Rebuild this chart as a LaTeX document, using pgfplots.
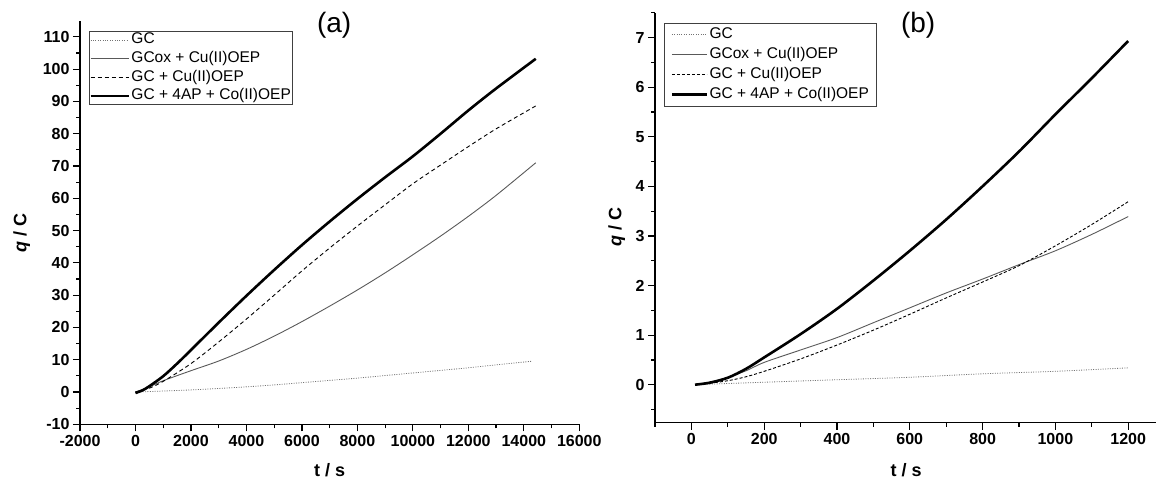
\documentclass[border=0pt]{standalone}
\usepackage{fontspec}
\setmainfont{Liberation Sans}
\usepackage{pgfplots}
\pgfplotsset{compat=1.18}

\pgfplotsset{
  panel/.style={
    scale only axis,
    clip mode=individual,
    axis x line=bottom, axis y line=left,
    axis line style={-, line width=1.3pt},
    tick align=outside,
    major tick length=7pt, minor tick length=4pt,
    every tick/.style={black, line width=1.2pt},
    minor x tick num=1, minor y tick num=1,
    tick label style={font=\bfseries\fontsize{16}{19}\selectfont},
    /pgf/number format/assume math mode=true,
    /pgf/number format/set thousands separator={},
    scaled ticks=false,
    label style={font=\bfseries\fontsize{18}{21}\selectfont},
    legend cell align=left,
    legend image code/.code={\draw[##1] (0pt,0pt) -- (38pt,0pt);},
    legend style={draw=black!75, line width=0.8pt, anchor=north west,
      font=\fontsize{15.5}{18}\selectfont, inner xsep=0pt, inner ysep=0pt,
      column sep=0pt, row sep=1.2pt,
      nodes={inner sep=1.5pt, text height=11pt, text depth=3.5pt}},
  },
  gc/.style={black!55, line width=0.8pt, dash pattern=on 1pt off 1.4pt, smooth},
  gcox/.style={black!65, line width=0.9pt, smooth},
  gccu/.style={black, line width=0.9pt, dash pattern=on 4pt off 3pt, smooth},
  gcco/.style={black, line width=2.6pt, smooth},
}

\begin{document}
\begin{tikzpicture}
\path[use as bounding box] (0,0) rectangle (1156pt,479pt);

% panel (a)
\begin{axis}[panel, at={(80pt,54.7pt)}, anchor=south west,
  width=499.3pt, height=403.6pt,
  xmin=-2000, xmax=16000, ymin=-10, ymax=115,
  xtick={-2000,0,...,16000}, ytick={-10,0,...,110},
  xlabel={t / s}, ylabel={\textit{q} / C},
  xlabel style={at={(axis description cs:0.5,0)}, anchor=center, yshift=-45.5pt},
  ylabel style={at={(axis description cs:0,0.474)}, anchor=center, yshift=58.3pt},
  legend style={at={(0.018,0.975)}},
]
\addplot[gc] coordinates {(0,0) (1000,0.3) (2000,0.65) (3000,1.1) (4000,1.6) (5000,2.2)
  (6000,2.9) (7000,3.6) (8000,4.3) (9000,5.1) (10000,5.9) (11000,6.7) (12000,7.5)
  (13000,8.4) (14260,9.5)};
\addplot[gcox] coordinates {(0,0) (500,1.6) (1000,3.5) (2000,6.6) (3000,9.6) (4000,13.2)
  (5000,17.3) (6000,21.8) (7000,26.6) (8000,31.6) (9000,36.9) (10000,42.5) (11000,48.3)
  (12000,54.4) (13000,60.9) (14430,71.0)};
\addplot[gccu] coordinates {(0,0) (500,1.2) (1000,3.3) (2000,8.8) (3000,15.5) (4000,22.6)
  (5000,30.0) (6000,37.5) (7000,44.6) (8000,51.4) (9000,58.0) (10000,64.5) (11000,70.3)
  (12000,76.0) (13000,81.5) (14430,88.6)};
\addplot[gcco] coordinates {(0,-0.3) (250,0.5) (500,1.8) (1000,4.9) (1500,8.8) (2000,13.0)
  (3000,21.5) (4000,29.8) (5000,37.8) (6000,45.5) (7000,52.8) (8000,59.8) (9000,66.5)
  (10000,73.0) (11000,80.0) (12000,87.2) (13000,94.0) (14430,103.2)};
\legend{GC, GCox + Cu(II)OEP, GC + Cu(II)OEP, GC + 4AP + Co(II)OEP}
\node[font=\fontsize{28}{30}\selectfont] at (rel axis cs:0.509,0.989) {(a)};
\end{axis}

% panel (b)
\begin{axis}[panel, at={(655pt,56.3pt)}, anchor=south west,
  width=502.3pt, height=410pt,
  xmin=-100, xmax=1280, ymin=-0.766, ymax=7.5,
  xtick={0,200,...,1200}, ytick={0,1,...,7},
  minor xtick={-100,100,300,500,700,900,1100},
  minor ytick={-0.5,0.5,1.5,2.5,3.5,4.5,5.5,6.5,7.5},
  minor x tick num=0, minor y tick num=0,
  xlabel={t / s}, ylabel={\textit{q} / C},
  xlabel style={at={(axis description cs:0.5,0)}, anchor=center, yshift=-47pt},
  ylabel style={at={(axis description cs:0,0.478)}, anchor=center, yshift=38.3pt},
  legend style={at={(0.018,0.976)}, inner xsep=6pt, inner ysep=3.2pt, row sep=2.3pt},
  legend image code/.code={\draw[#1] (0pt,0pt) -- (35pt,0pt);},
  gccu/.style={black, line width=0.9pt, dash pattern=on 3pt off 2pt, smooth},
]
\addplot[gc] coordinates {(10,0) (200,0.05) (400,0.1) (600,0.15) (800,0.22) (1000,0.27) (1200,0.34)};
\addplot[gcox] coordinates {(10,0) (50,0.05) (100,0.15) (150,0.28) (200,0.45) (300,0.7)
  (400,0.95) (500,1.25) (600,1.55) (700,1.85) (800,2.13) (900,2.42) (1000,2.70)
  (1100,3.03) (1200,3.39)};
\addplot[gccu] coordinates {(10,0) (50,0.03) (100,0.08) (150,0.16) (200,0.27) (300,0.52)
  (400,0.8) (500,1.1) (600,1.42) (700,1.75) (800,2.07) (900,2.40) (1000,2.80)
  (1100,3.23) (1200,3.69)};
\addplot[gcco] coordinates {(10,0) (50,0.04) (100,0.14) (150,0.32) (200,0.55) (300,1.02)
  (400,1.53) (500,2.1) (600,2.7) (700,3.33) (800,4.0) (900,4.7) (1000,5.45)
  (1100,6.18) (1200,6.93)};
\legend{GC, GCox + Cu(II)OEP, GC + Cu(II)OEP, GC + 4AP + Co(II)OEP}
\node[font=\fontsize{28}{30}\selectfont] at (rel axis cs:0.524,0.970) {(b)};
\end{axis}
\end{tikzpicture}
\end{document}
